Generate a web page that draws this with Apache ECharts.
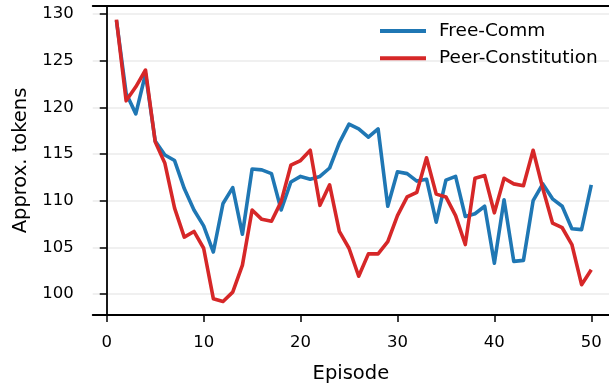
<!DOCTYPE html>
<html>
<head>
<meta charset="utf-8">
<script src="https://cdn.jsdelivr.net/npm/echarts@6/dist/echarts.min.js"></script>
<style>
html,body{margin:0;padding:0;background:#fff;}
#chart{width:609px;height:383px;}
</style>
</head>
<body>
<div id="chart"></div>
<script>
const episodes = Array.from({length: 50}, (_, i) => i + 1);
const freeComm = [129.3, 121.5, 119.3, 123.6, 116.4, 114.9, 114.3, 111.3, 109.0, 107.3,
  104.5, 109.7, 111.4, 106.4, 113.4, 113.3, 112.9, 109.0, 112.0, 112.6,
  112.3, 112.6, 113.5, 116.2, 118.2, 117.7, 116.8, 117.7, 109.4, 113.1,
  112.9, 112.1, 112.3, 107.7, 112.2, 112.6, 108.3, 108.6, 109.4, 103.3,
  110.1, 103.5, 103.6, 110.0, 111.8, 110.2, 109.4, 107.0, 106.9, 111.7];
const peerConstitution = [129.4, 120.7, 122.2, 124.0, 116.3, 114.0, 109.2, 106.1, 106.7, 104.9,
  99.5, 99.2, 100.2, 103.1, 109.0, 108.0, 107.8, 109.9, 113.8, 114.3,
  115.4, 109.5, 111.7, 106.7, 104.9, 101.9, 104.3, 104.3, 105.6, 108.4,
  110.4, 110.9, 114.6, 110.7, 110.4, 108.4, 105.3, 112.4, 112.7, 108.7,
  112.4, 111.8, 111.6, 115.4, 111.3, 107.6, 107.1, 105.3, 101.0, 102.6];
const xTicks = [0, 10, 20, 30, 40, 50];
const yTicks = [100, 105, 110, 115, 120, 125, 130];
const seriesNames = ['Free-Comm', 'Peer-Constitution'];
const colors = ['#1f77b4', '#d62728'];

const chart = echarts.init(document.getElementById('chart'), null, {renderer: 'canvas'});
const font = 'DejaVu Sans';
const pair = (arr) => episodes.map((e, i) => [e, arr[i]]);
const xMin = -1.45, xMax = 51.83;

chart.setOption({
  animation: false,
  backgroundColor: '#fff',
  grid: {left: 92.7, top: 6, right: 0, height: 309, containLabel: false, outerBoundsMode: 'none'},
  legend: {
    orient: 'vertical',
    left: 375, top: 15,
    icon: 'rect',
    itemWidth: 46, itemHeight: 4,
    itemGap: 5.3,
    textStyle: {fontFamily: font, fontSize: 18.5, color: '#000', lineHeight: 22, padding: [0, 0, 0, 8]},
    data: seriesNames
  },
  xAxis: [{
    type: 'value',
    min: xMin, max: xMax,
    name: 'Episode', nameLocation: 'middle', nameGap: 49,
    nameTextStyle: {fontFamily: font, fontSize: 19.5, color: '#000'},
    axisLine: {show: true, lineStyle: {color: '#000', width: 1.8}},
    axisTick: {show: true, length: 7, lineStyle: {color: '#000', width: 1.5}, customValues: xTicks},
    axisLabel: {fontFamily: font, fontSize: 16.5, color: '#000', margin: 19, customValues: xTicks},
    splitLine: {show: false}
  }, {
    type: 'value',
    position: 'top',
    min: xMin, max: xMax,
    axisLine: {show: true, lineStyle: {color: '#000', width: 1.8}},
    axisTick: {show: false},
    axisLabel: {show: false},
    splitLine: {show: false}
  }],
  yAxis: {
    type: 'value',
    min: 97.75, max: 130.86,
    name: 'Approx. tokens', nameLocation: 'middle', nameGap: 62, nameRotate: 90,
    nameTextStyle: {fontFamily: font, fontSize: 19.5, color: '#000'},
    axisLine: {show: true, lineStyle: {color: '#000', width: 1.8}},
    axisTick: {show: true, length: 7, lineStyle: {color: '#000', width: 1.5}, customValues: yTicks},
    axisLabel: {fontFamily: font, fontSize: 16.5, color: '#000', margin: 19, customValues: yTicks},
    splitLine: {show: true, lineStyle: {color: '#ebebeb', width: 1.5}}
  },
  series: [
    {name: seriesNames[0], type: 'line', data: pair(freeComm), showSymbol: false, symbol: 'none',
     color: colors[0], lineStyle: {color: colors[0], width: 3.6, join: 'round'}, z: 2},
    {name: seriesNames[1], type: 'line', data: pair(peerConstitution), showSymbol: false, symbol: 'none',
     color: colors[1], lineStyle: {color: colors[1], width: 3.6, join: 'round'}, z: 3}
  ]
});
</script>
</body>
</html>
